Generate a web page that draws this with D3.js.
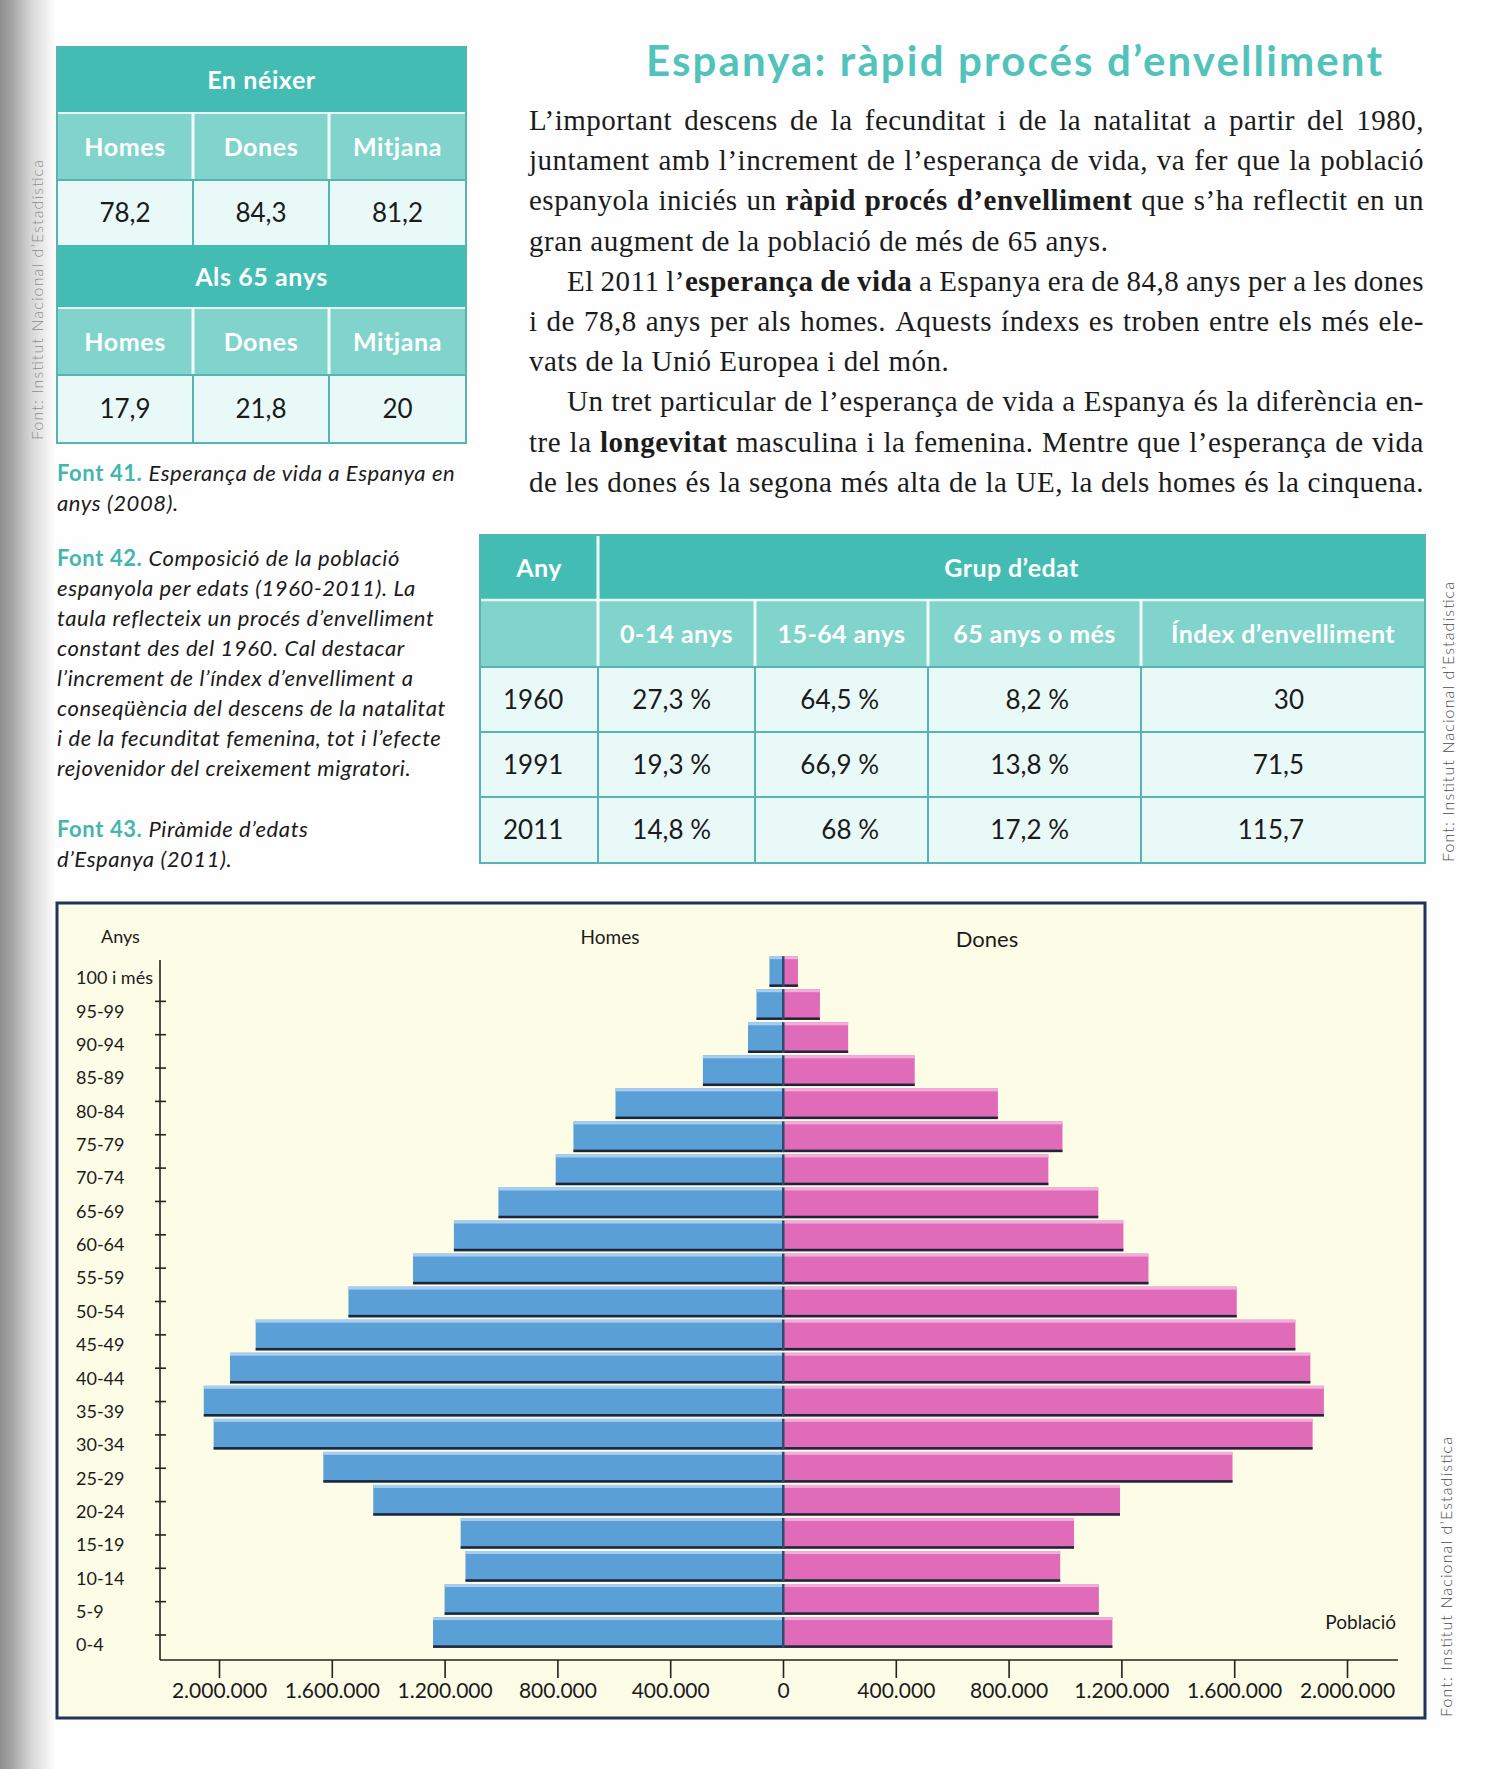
<!DOCTYPE html>
<html>
<head>
<meta charset="utf-8">
<script src="https://cdn.jsdelivr.net/npm/d3@7"></script>
<style>
  body { margin: 0; background: #fff; }
  svg { display: block; }
</style>
</head>
<body>
<div id="page"></div>
<script>
// ---------- data ----------
const ageGroups = ['100 i més','95-99','90-94','85-89','80-84','75-79','70-74','65-69','60-64','55-59',
  '50-54','45-49','40-44','35-39','30-34','25-29','20-24','15-19','10-14','5-9','0-4'];
const homes = [48000, 94000, 124000, 284000, 594000, 743000, 806000, 1009000, 1167000, 1312000,
  1541000, 1870000, 1961000, 2054000, 2019000, 1630000, 1453000, 1143000, 1126000, 1200000, 1241000];
const dones = [53000, 131000, 231000, 467000, 762000, 991000, 941000, 1118000, 1207000, 1296000,
  1609000, 1817000, 1870000, 1918000, 1878000, 1594000, 1195000, 1032000, 983000, 1120000, 1168000];
const popTicks = [-2000000, -1600000, -1200000, -800000, -400000, 0, 400000, 800000, 1200000, 1600000, 2000000];

const lifeCols = ['Homes', 'Dones', 'Mitjana'];
const lifeBlocks = ['En néixer', 'Als 65 anys'];
const lifeAtBirth = [78.2, 84.3, 81.2];
const lifeAt65 = [17.9, 21.8, 20];

const compYears = [1960, 1991, 2011];
const compCols = ['0-14 anys', '15-64 anys', '65 anys o més', 'Índex d’envelliment'];
const share014 = [27.3, 19.3, 14.8];
const share1564 = [64.5, 66.9, 68];
const share65 = [8.2, 13.8, 17.2];
const agingIndex = [30, 71.5, 115.7];

const title = 'Espanya: ràpid procés d’envelliment';
// *...* = bold
const bodyLines = [
  'L’important descens de la fecunditat i de la natalitat a partir del 1980,',
  'juntament amb l’increment de l’esperança de vida, va fer que la població',
  'espanyola iniciés un *ràpid* *procés* *d’envelliment* que s’ha reflectit en un',
  'gran augment de la població de més de 65 anys.',
  'El 2011 l’*esperança* *de* *vida* a Espanya era de 84,8 anys per a les dones',
  'i de 78,8 anys per als homes. Aquests índexs es troben entre els més ele-',
  'vats de la Unió Europea i del món.',
  'Un tret particular de l’esperança de vida a Espanya és la diferència en-',
  'tre la *longevitat* masculina i la femenina. Mentre que l’esperança de vida',
  'de les dones és la segona més alta de la UE, la dels homes és la cinquena.'
];
const bodyJustify = [1,1,1,0,1,1,0,1,1,1];
const bodyIndent  = [0,0,0,0,1,0,0,1,0,0];

const cap41 = ['Esperança de vida a Espanya en', 'anys (2008).'];
const cap42 = ['Composició de la població', 'espanyola per edats (1960-2011). La',
  'taula reflecteix un procés d’envelliment', 'constant des del 1960. Cal destacar',
  'l’increment de l’índex d’envelliment a', 'conseqüència del descens de la natalitat',
  'i de la fecunditat femenina, tot i l’efecte', 'rejovenidor del creixement migratori.'];
const cap43 = ['Piràmide d’edats', 'd’Espanya (2011).'];
const source = 'Font: Institut Nacional d’Estadística';

// ---------- setup ----------
const W = 1496, H = 1769;
const SANS = 'Lato, "Open Sans", sans-serif';
const SERIF = '"Liberation Serif", "DejaVu Serif", serif';
const C = { dark: '#43bdb4', light: '#80d4cc', cell: '#e9f9f8', grid: '#56b5b0',
  title: '#52c3ba', cap: '#45b6ae', ink: '#1b1b1b' };
const dec = v => String(v).replace('.', ',');
const pct = v => dec(v) + ' %';
const loc = d3.formatLocale({decimal: ',', thousands: '.', grouping: [3], currency: ['', '']});
const fmtPop = loc.format(',');

const svg = d3.select('#page').append('svg').attr('width', W).attr('height', H);

// scanner shade on the left margin
const defs = svg.append('defs');
const lg = defs.append('linearGradient').attr('id', 'shade').attr('x1', 0).attr('x2', 1);
[[0,'#8e8e8e'],[0.2,'#a3a3a3'],[0.55,'#d6d6d6'],[1,'#ffffff']].forEach(s =>
  lg.append('stop').attr('offset', s[0]).attr('stop-color', s[1]));
svg.append('rect').attr('width', W).attr('height', H).attr('fill', '#fefefe');
svg.append('rect').attr('width', 56).attr('height', H).attr('fill', 'url(#shade)');

function text(g, x, y, s, o = {}) {
  return g.append('text').attr('x', x).attr('y', y).text(s)
    .attr('font-family', o.family || SANS).attr('font-size', o.size || 20)
    .attr('font-weight', o.weight || 'normal').attr('font-style', o.style || 'normal')
    .attr('letter-spacing', o.ls || 0)
    .attr('fill', o.fill || C.ink).attr('text-anchor', o.anchor || 'start');
}

// ---------- title + body ----------
text(svg, 646, 76, title, {size: 42, weight: 'bold', fill: C.title})
  .attr('textLength', 736).attr('lengthAdjust', 'spacing');

const body = svg.append('g');
const bodyL = 529, bodyR = 1424, bodySize = 29;
bodyLines.forEach((line, i) => {
  const y = 130 + i * 40.2;
  const x0 = bodyIndent[i] ? 567 : bodyL;
  const t = body.append('text').attr('y', y).attr('font-family', SERIF)
    .attr('font-size', bodySize).attr('fill', C.ink).attr('letter-spacing', 0.5);
  const words = line.split(' ').map(w => w.split('*').map((p, k) => p ? t.append('tspan')
      .attr('font-weight', k % 2 ? 'bold' : 'normal').text(p) : null).filter(Boolean));
  const widths = words.map(sp => d3.sum(sp, s => s.node().getComputedTextLength()));
  const gap = bodyJustify[i] ? (bodyR - x0 - d3.sum(widths)) / (words.length - 1) : bodySize * 0.27;
  let x = x0;
  words.forEach((sp, k) => { sp[0].attr('x', x); x += widths[k] + gap; });
});

// ---------- captions ----------
function caption(label, lines, y0) {
  lines.forEach((l, i) => {
    const t = svg.append('text').attr('x', 57).attr('y', y0 + i * 30)
      .attr('font-family', SANS).attr('font-size', 22).attr('letter-spacing', 0.6).attr('fill', C.ink);
    if (i === 0) t.append('tspan').attr('font-weight', 'bold').attr('fill', C.cap).text(label + ' ');
    t.append('tspan').attr('font-style', 'italic').text(l);
  });
}
caption('Font 41.', cap41, 481);
caption('Font 42.', cap42, 566);
caption('Font 43.', cap43, 837);

function vsource(cx, yStart, fill) {
  svg.append('text').attr('transform', `translate(${cx},${yStart}) rotate(-90)`)
    .attr('dy', '0.35em').attr('font-family', SANS).attr('font-size', 16)
    .attr('font-weight', 300).attr('fill', fill).attr('textLength', 280)
    .attr('lengthAdjust', 'spacing').text(source);
}
vsource(37, 440, '#8d8d8d');
vsource(1448, 862, '#4a4a4a');
vsource(1446, 1717, '#4a4a4a');

// ---------- table 1: life expectancy ----------
const t1 = svg.append('g');
const t1x = [57, 193, 329, 466];
const t1y = [47, 113, 180, 245, 308, 375, 443];
[lifeAtBirth, lifeAt65].forEach((vals, b) => {
  const r = b * 3;
  t1.append('rect').attr('x', t1x[0]).attr('y', t1y[r]).attr('width', t1x[3] - t1x[0])
    .attr('height', t1y[r + 1] - t1y[r]).attr('fill', C.dark);
  text(t1, (t1x[0] + t1x[3]) / 2, (t1y[r] + t1y[r + 1]) / 2 + 9, lifeBlocks[b],
    {size: 25, weight: 'bold', fill: '#fff', anchor: 'middle', ls: 0.6});
  t1.append('rect').attr('x', t1x[0]).attr('y', t1y[r + 1]).attr('width', t1x[3] - t1x[0])
    .attr('height', t1y[r + 2] - t1y[r + 1]).attr('fill', C.light);
  t1.append('rect').attr('x', t1x[0]).attr('y', t1y[r + 2]).attr('width', t1x[3] - t1x[0])
    .attr('height', t1y[r + 3] - t1y[r + 2]).attr('fill', C.cell);
  t1.append('line').attr('x1', t1x[0]).attr('x2', t1x[3]).attr('y1', t1y[r + 1]).attr('y2', t1y[r + 1])
    .attr('stroke', '#e8f7f5').attr('stroke-width', 2);
  lifeCols.forEach((c, k) => {
    const cx = (t1x[k] + t1x[k + 1]) / 2;
    text(t1, cx, (t1y[r + 1] + t1y[r + 2]) / 2 + 9, c, {size: 25, weight: 'bold', fill: '#fff', anchor: 'middle', ls: 0.6});
    text(t1, cx, (t1y[r + 2] + t1y[r + 3]) / 2 + 9, dec(vals[k]), {size: 26, anchor: 'middle'});
    if (k > 0) {
      t1.append('line').attr('x1', t1x[k]).attr('x2', t1x[k]).attr('y1', t1y[r + 1]).attr('y2', t1y[r + 2])
        .attr('stroke', '#f2fbfa').attr('stroke-width', 3);
      t1.append('line').attr('x1', t1x[k]).attr('x2', t1x[k]).attr('y1', t1y[r + 2]).attr('y2', t1y[r + 3])
        .attr('stroke', C.grid).attr('stroke-width', 2);
    }
  });
  t1.append('line').attr('x1', t1x[0]).attr('x2', t1x[3]).attr('y1', t1y[r + 2]).attr('y2', t1y[r + 2])
    .attr('stroke', C.grid).attr('stroke-width', 2);
});
t1.append('rect').attr('x', t1x[0]).attr('y', t1y[0]).attr('width', t1x[3] - t1x[0])
  .attr('height', t1y[6] - t1y[0]).attr('fill', 'none').attr('stroke', C.grid).attr('stroke-width', 2);

// ---------- table 2: composition ----------
const t2 = svg.append('g');
const t2x = [480, 598, 755, 928, 1141, 1425];
const t2y = [535, 600, 667, 732, 797, 863];
const fullW = t2x[5] - t2x[0];
t2.append('rect').attr('x', t2x[0]).attr('y', t2y[0]).attr('width', fullW).attr('height', t2y[1] - t2y[0]).attr('fill', C.dark);
t2.append('rect').attr('x', t2x[0]).attr('y', t2y[1]).attr('width', fullW).attr('height', t2y[2] - t2y[1]).attr('fill', C.light);
t2.append('rect').attr('x', t2x[0]).attr('y', t2y[2]).attr('width', fullW).attr('height', t2y[5] - t2y[2]).attr('fill', C.cell);
t2.append('line').attr('x1', t2x[1]).attr('x2', t2x[1]).attr('y1', t2y[0]).attr('y2', t2y[1]).attr('stroke', '#f2fbfa').attr('stroke-width', 3);
t2.append('line').attr('x1', t2x[0]).attr('x2', t2x[5]).attr('y1', t2y[1]).attr('y2', t2y[1]).attr('stroke', '#e8f7f5').attr('stroke-width', 2.5);
text(t2, (t2x[0] + t2x[1]) / 2, 577, 'Any', {size: 25, weight: 'bold', fill: '#fff', anchor: 'middle', ls: 0.4});
text(t2, (t2x[1] + t2x[5]) / 2, 577, 'Grup d’edat', {size: 25, weight: 'bold', fill: '#fff', anchor: 'middle', ls: 0.4});
compCols.forEach((c, k) => {
  text(t2, (t2x[k + 1] + t2x[k + 2]) / 2, 643, c, {size: 25, weight: 'bold', fill: '#fff', anchor: 'middle', ls: 0.4});
});
for (let k = 1; k < 5; k++) {
  t2.append('line').attr('x1', t2x[k]).attr('x2', t2x[k]).attr('y1', t2y[1]).attr('y2', t2y[2]).attr('stroke', '#f2fbfa').attr('stroke-width', 3);
  t2.append('line').attr('x1', t2x[k]).attr('x2', t2x[k]).attr('y1', t2y[2]).attr('y2', t2y[5]).attr('stroke', C.grid).attr('stroke-width', 2);
}
[2, 3, 4].forEach(r => t2.append('line').attr('x1', t2x[0]).attr('x2', t2x[5]).attr('y1', t2y[r]).attr('y2', t2y[r])
  .attr('stroke', C.grid).attr('stroke-width', 2));
const valueRight = [711, 879, 1069, 1304];
compYears.forEach((yr, i) => {
  const cy = (t2y[i + 2] + t2y[i + 3]) / 2 + 9;
  text(t2, 503, cy, yr, {size: 26});
  [pct(share014[i]), pct(share1564[i]), pct(share65[i]), dec(agingIndex[i])].forEach((v, k) =>
    text(t2, valueRight[k], cy, v, {size: 26, anchor: 'end'}));
});
t2.append('rect').attr('x', t2x[0]).attr('y', t2y[0]).attr('width', fullW).attr('height', t2y[5] - t2y[0])
  .attr('fill', 'none').attr('stroke', C.grid).attr('stroke-width', 2);

// ---------- population pyramid ----------
const pg = svg.append('g');
pg.append('rect').attr('x', 57).attr('y', 903).attr('width', 1368).attr('height', 815)
  .attr('fill', '#fdfce6').attr('stroke', '#23335a').attr('stroke-width', 3);

const cx = 783;
const xs = d3.scaleLinear().domain([0, 2000000]).range([0, 564]);
const xa = d3.scaleLinear().domain([-2000000, 2000000]).range([cx - 564, cx + 564]);
const yb = d3.scaleBand().domain(ageGroups).range([955, 1649]).paddingInner(0.07).paddingOuter(0.035);
const ya = d3.scalePoint().domain(ageGroups).range([978, 1645]);
const bw = yb.bandwidth();

const rows = ageGroups.map((a, i) => ({a, h: homes[i], d: dones[i]}));
const bar = pg.selectAll('g.bar').data(rows).join('g').attr('class', 'bar');
// men
bar.append('rect').attr('x', d => cx - xs(d.h)).attr('y', d => yb(d.a)).attr('width', d => xs(d.h)).attr('height', bw).attr('fill', '#5b9fd7');
bar.append('rect').attr('x', d => cx - xs(d.h)).attr('y', d => yb(d.a)).attr('width', d => xs(d.h)).attr('height', 3).attr('fill', '#a9cdee');
// women
bar.append('rect').attr('x', cx).attr('y', d => yb(d.a)).attr('width', d => xs(d.d)).attr('height', bw).attr('fill', '#e06bb8');
bar.append('rect').attr('x', cx).attr('y', d => yb(d.a)).attr('width', d => xs(d.d)).attr('height', 3).attr('fill', '#f2aedb');
// dark base line and centre divider
bar.append('rect').attr('x', d => cx - xs(d.h)).attr('y', d => yb(d.a) + bw - 2.5).attr('width', d => xs(d.h) + xs(d.d)).attr('height', 2.5).attr('fill', '#1d2638');
bar.append('rect').attr('x', cx - 1).attr('y', d => yb(d.a)).attr('width', 2.5).attr('height', bw).attr('fill', '#2e4a6e');

// y axis
pg.append('line').attr('x1', 160).attr('x2', 160).attr('y1', 960).attr('y2', 1660).attr('stroke', '#222').attr('stroke-width', 1.6);
pg.selectAll('line.ytick').data(ageGroups.slice(1)).join('line').attr('class', 'ytick')
  .attr('x1', 155).attr('x2', 166).attr('y1', d => ya(d) - 10).attr('y2', d => ya(d) - 10)
  .attr('stroke', '#222').attr('stroke-width', 1.6);
pg.selectAll('text.ylab').data(ageGroups).join('text').attr('class', 'ylab')
  .attr('x', 76).attr('y', d => ya(d)).attr('dy', '0.35em').attr('font-family', SANS)
  .attr('font-size', 18).attr('fill', C.ink).text(d => d);

// x axis
pg.append('line').attr('x1', 160).attr('x2', 1398).attr('y1', 1660).attr('y2', 1660).attr('stroke', '#222').attr('stroke-width', 1.6);
const xAxis = pg.append('g').attr('transform', 'translate(0,1660)')
  .call(d3.axisBottom(xa).tickValues(popTicks).tickFormat(d => fmtPop(Math.abs(d))).tickSize(18).tickSizeOuter(0).tickPadding(5));
xAxis.select('.domain').remove();
xAxis.selectAll('line').attr('stroke', '#222').attr('stroke-width', 1.6);
xAxis.selectAll('text').attr('font-family', SANS).attr('font-size', 21).attr('fill', C.ink);

text(pg, 101, 943, 'Anys', {size: 18});
text(pg, 610, 944, 'Homes', {size: 19, anchor: 'middle'});
text(pg, 987, 947, 'Dones', {size: 22, anchor: 'middle'});
text(pg, 1396, 1629, 'Població', {size: 19, anchor: 'end'});
</script>
</body>
</html>
